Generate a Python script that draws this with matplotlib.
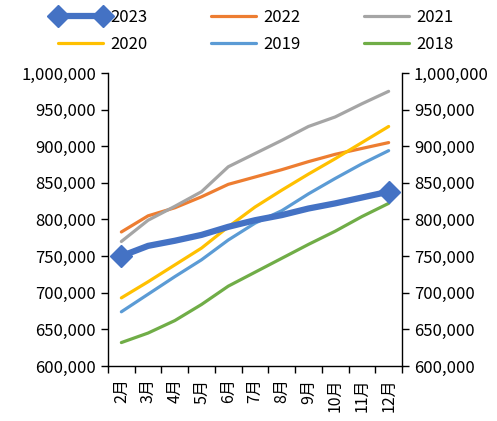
import numpy as np
import matplotlib
matplotlib.use('Agg')
import matplotlib.pyplot as plt
from matplotlib.ticker import FuncFormatter, FixedLocator

plt.rcParams['font.family'] = ['Noto Sans CJK SC', 'DejaVu Sans']

# 資料
months = ['2月', '3月', '4月', '5月', '6月', '7月', '8月', '9月', '10月', '11月', '12月']
y2023 = [750000, 764000, 771000, 779000, 790000, 799000, 806000, 815000, 822000, 830000, 838000]
y2022 = [783000, 805000, 816000, 831000, 848000, 858000, 868000, 879000, 889000, 897000, 905000]
y2021 = [770000, 799000, 818000, 838000, 872000, 890000, 908000, 927000, 940000, 958000, 975000]
y2020 = [693000, 715000, 738000, 761000, 790000, 817000, 840000, 862000, 883000, 905000, 927000]
y2019 = [674000, 698000, 722000, 745000, 772000, 795000, 812000, 835000, 856000, 876000, 894000]
y2018 = [632000, 645000, 662000, 684000, 709000, 728000, 747000, 766000, 784000, 804000, 822000]

x = np.arange(len(months))

fig = plt.figure(figsize=(4.97, 4.21), dpi=100)
ax = fig.add_axes([108 / 497, 1 - 366 / 421, 294 / 497, 293 / 421])

lw = 2.3
ax.plot(x, y2022, color='#ED7D31', lw=lw, label='2022', solid_capstyle='round')
ax.plot(x, y2021, color='#A5A5A5', lw=lw, label='2021', solid_capstyle='round')
ax.plot(x, y2020, color='#FFC000', lw=lw, label='2020', solid_capstyle='round')
ax.plot(x, y2019, color='#5B9BD5', lw=lw, label='2019', solid_capstyle='round')
ax.plot(x, y2018, color='#70AD47', lw=lw, label='2018', solid_capstyle='round')
ax.plot(x, y2023, color='#4472C4', lw=4.5, marker='D', markersize=11,
        markevery=[0, len(x) - 1], label='2023', solid_capstyle='round')

ax.set_xlim(-0.5, len(x) - 0.5)
ax.set_ylim(600000, 1000000)
ax.set_yticks(np.arange(600000, 1000001, 50000))
ax.yaxis.set_major_formatter(FuncFormatter(lambda v, p: f'{int(v):,}'))

ax.set_xticks(x)
ax.set_xticklabels(months, rotation=90, fontsize=11.5)
ax.xaxis.set_minor_locator(FixedLocator(np.arange(-0.5, len(x), 1)))
ax.tick_params(axis='x', which='major', length=0, pad=9)
ax.tick_params(axis='x', which='minor', length=5, width=1)
ax.tick_params(axis='y', which='major', length=5, width=1, labelsize=12,
               right=True, labelright=True, direction='out')

ax.spines['top'].set_visible(False)
for s in ['left', 'right', 'bottom']:
    ax.spines[s].set_linewidth(1)
    ax.spines[s].set_color('black')

# 圖例：逐列排列（matplotlib 按欄填入）
h, l = ax.get_legend_handles_labels()
order = ['2023', '2020', '2022', '2019', '2021', '2018']
hh = [h[l.index(o)] for o in order]
fig.legend(hh, order, loc='upper center', bbox_to_anchor=(0.51, 1.015), ncol=3,
           frameon=False, fontsize=12, handlelength=3.3, numpoints=2,
           columnspacing=3.5, handletextpad=0.15, labelspacing=0.6)

fig.savefig('out.png', dpi=100)
